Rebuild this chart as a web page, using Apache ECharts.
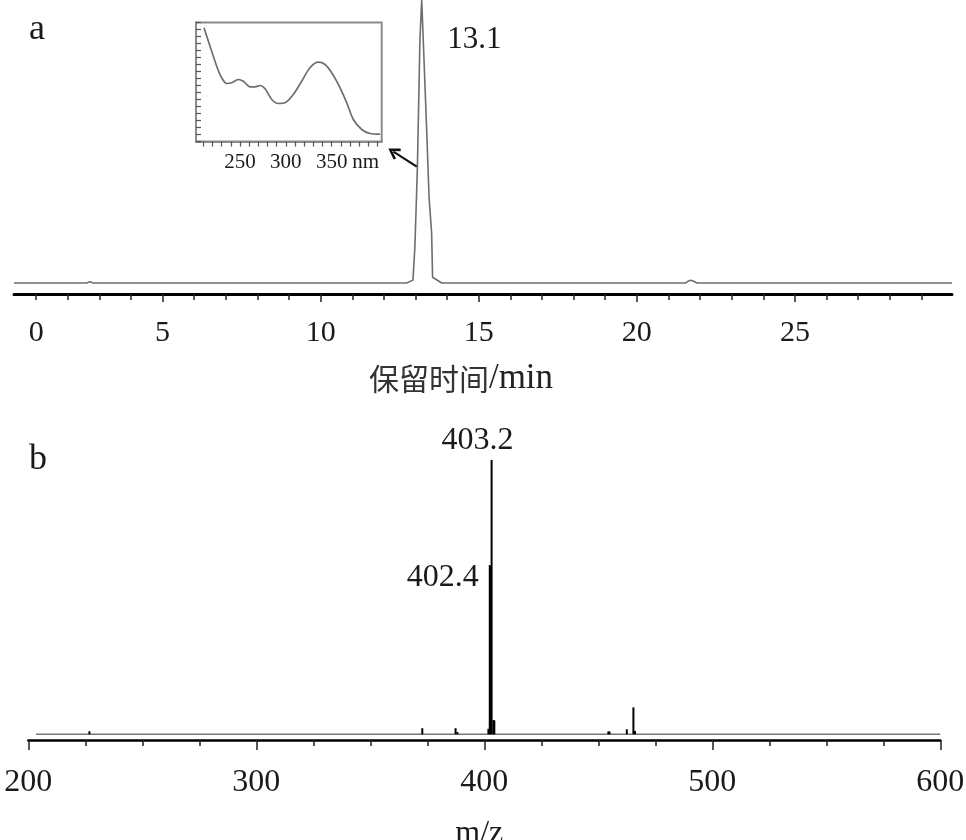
<!DOCTYPE html>
<html><head><meta charset="utf-8">
<script src="https://cdn.jsdelivr.net/npm/echarts@6/dist/echarts.min.js"></script>
<style>html,body{margin:0;padding:0;background:#fff}#c{width:966px;height:840px}</style>
</head><body><div id="c"></div>
<script>
// ---- panel a: chromatogram (retention time / min, relative response) ----
const chromTime = [0.3, 1.98, 2.0, 2.02, 2.6, 2.7, 2.8, 3.47, 3.49, 3.51, 12.72, 12.74, 12.76, 12.92, 12.98, 13.03, 13.06, 13.14, 13.196, 13.245, 13.35, 13.43, 13.51, 13.54, 13.83, 15.68, 15.70, 15.72, 21.55, 21.62, 21.7, 21.8, 21.9, 22.83, 22.85, 22.87, 29.97];
const chromResp = [0, 0, 0.6, 0, 0, 0.4, 0, 0, -0.5, 0, 0, 0.5, 0, 1, 12.7, 30, 41, 86, 100, 86, 55, 30, 17.7, 2, 0, 0, -0.5, 0, 0, 0.6, 1.0, 0.6, 0, 0, -0.5, 0, 0];
const peakTime = 13.196, peakResp = 100, peakLabel = '13.1';
const chromTicks = [1,2,3,4,5,6,7,8,9,10,11,12,13,14,15,16,17,18,19,20,21,22,23,24,25,26,27,28,29];
const chromMajorTicks = [5,10,15,20,25];
const chromLabelPos = [1,5,10,15,20,25];
const chromLabelText = ['0','5','10','15','20','25'];
const arrowFrom = [13.04, 41.1], arrowTo = [12.3, 46.4];
// ---- inset: UV spectrum ----
const uvNm  = [210.7, 217.3, 224.6, 230.0, 235.5, 240.9, 248.1, 253.6, 260.9, 266.4, 271.8, 277.3, 284.6, 291.8, 299.1, 308.1, 317.3, 326.3, 335.4, 342.7, 350.0, 359.1, 366.4, 373.6, 382.7, 391.8, 402.7];
const uvAbs = [1.137, 0.953, 0.753, 0.637, 0.58, 0.587, 0.62, 0.603, 0.547, 0.547, 0.56, 0.527, 0.42, 0.38, 0.387, 0.47, 0.603, 0.737, 0.793, 0.77, 0.687, 0.537, 0.387, 0.22, 0.12, 0.08, 0.073];
const uvTicks = [210,220,230,240,250,260,270,280,290,300,310,320,330,340,350,360,370,380,390,400];
const uvLabels = [250, 300, 350];
const uvUnitPos = 387, uvUnit = 'nm';
// ---- panel b: mass spectrum ----
const msMz  = [226.8, 372.8, 387.4, 388.2, 401.8, 402.4, 402.7, 403.2, 404.0, 404.4, 454.4, 454.9, 462.5, 465.4, 466.1];
const msInt = [1.1, 2.2, 2.2, 0.8, 2.0, 61.7, 61.0, 100, 5.2, 5.0, 1.0, 1.0, 1.8, 9.8, 1.2];
const msLabels = {'403.2': '403.2', '402.4': '402.4'};
const msBaseline = [[203.4, 0], [600, 0]];

const serif = '"Liberation Serif","DejaVu Serif",serif';
const cjk = '"Noto Sans CJK SC","Noto Sans CJK JP",sans-serif';
const ink = '#1a1a1a';

const chromData = chromTime.map((t, i) => [t, chromResp[i]]);
const msData = msMz.map((m, i) => {
  const key = m.toFixed(1);
  if (key === '403.2') return {value: [m, msInt[i]], label: {show: true, formatter: msLabels[key], position: 'top', distance: 4, offset: [-14, 1], fontFamily: serif, fontSize: 32, color: ink}};
  if (key === '402.4') return {value: [m, msInt[i]], label: {show: true, formatter: msLabels[key], position: 'top', distance: 4, offset: [-47, 33], fontFamily: serif, fontSize: 32, color: ink}};
  return [m, msInt[i]];
});

const chart = echarts.init(document.getElementById('c'), null, {renderer: 'canvas'});
chart.setOption({
  animation: false,
  backgroundColor: '#fff',
  title: [
    {text: 'a', left: 24, top: 7, textStyle: {fontFamily: serif, fontSize: 36, fontWeight: 'normal', color: ink}},
    {text: 'b', left: 24, top: 437, textStyle: {fontFamily: serif, fontSize: 36, fontWeight: 'normal', color: ink}}
  ],
  grid: [
    {left: 14, right: 14, top: 0, bottom: 546, containLabel: false, outerBoundsMode: 'none'},
    {left: 196, width: 185.7, top: 22.5, height: 119, show: true, borderColor: '#8a8a8a', borderWidth: 2, backgroundColor: 'transparent', outerBoundsMode: 'none'},
    {left: 28.3, right: 25.7, top: 432.6, bottom: 100, outerBoundsMode: 'none'}
  ],
  xAxis: [
    {type: 'value', gridIndex: 0, min: 0.3, max: 29.97, position: 'bottom',
     axisLine: {show: true, onZero: false, lineStyle: {color: '#000', width: 3}},
     axisTick: {show: true, customValues: chromTicks, length: 6, lineStyle: {color: '#222', width: 1.5}},
     axisLabel: {customValues: chromLabelPos, formatter: v => chromLabelText[chromLabelPos.indexOf(v)], fontFamily: serif, fontSize: 30, color: ink, margin: 24},
     splitLine: {show: false},
     name: '{c|保留时间}{l|/min}', nameLocation: 'middle', nameGap: 67,
     nameTextStyle: {color: '#333', padding: [0, 44, 0, 0],
       rich: {c: {fontFamily: cjk, fontSize: 30, color: '#333'}, l: {fontFamily: serif, fontSize: 35, color: '#222'}}}},
    {type: 'value', gridIndex: 0, min: 0.3, max: 29.97, position: 'bottom',
     axisLine: {show: false, onZero: false}, axisLabel: {show: false}, splitLine: {show: false},
     axisTick: {show: true, customValues: chromMajorTicks, length: 8, lineStyle: {color: '#222', width: 1.5}}},
    {type: 'value', gridIndex: 1, min: 202, max: 404.5, position: 'bottom',
     axisLine: {show: true, onZero: false, lineStyle: {color: '#8a8a8a', width: 2}},
     axisTick: {show: true, customValues: uvTicks, length: 5, lineStyle: {color: '#555', width: 1.2}},
     axisLabel: {customValues: uvLabels.concat([uvUnitPos]), formatter: v => (v === uvUnitPos ? uvUnit : String(v)), fontFamily: serif, fontSize: 21, color: ink, margin: 10},
     splitLine: {show: false}},
    {type: 'value', gridIndex: 2, min: 200, max: 600, interval: 100, position: 'bottom',
     axisLine: {show: true, onZero: false, lineStyle: {color: '#000', width: 2.5}},
     axisTick: {show: true, length: 10, lineStyle: {color: '#222', width: 1.5}},
     minorTick: {show: true, splitNumber: 4, length: 6, lineStyle: {color: '#222', width: 1.5}},
     axisLabel: {fontFamily: serif, fontSize: 32, color: ink, margin: 27},
     splitLine: {show: false},
     name: 'm/z', nameLocation: 'middle', nameGap: 78,
     nameTextStyle: {fontFamily: serif, fontSize: 32, color: ink, padding: [0, 10, 0, 0]}}
  ],
  yAxis: [
    {type: 'value', gridIndex: 0, min: -3.9, max: 100, show: false},
    {type: 'value', gridIndex: 1, min: 0, max: 1.19, interval: 0.07,
     axisLine: {show: true, lineStyle: {color: '#8a8a8a', width: 2}},
     axisTick: {show: true, inside: true, length: 5, lineStyle: {color: '#555', width: 1.2}},
     axisLabel: {show: false}, splitLine: {show: false}},
    {type: 'value', gridIndex: 2, min: -2.1, max: 110, show: false}
  ],
  series: [
    {type: 'line', xAxisIndex: 0, yAxisIndex: 0, data: chromData, symbol: 'none',
     lineStyle: {color: '#6e6e6e', width: 1.6}, clip: false, z: 3,
     markPoint: {silent: true, symbol: 'circle', symbolSize: 1, itemStyle: {color: 'rgba(0,0,0,0)'},
       label: {show: true, position: 'right', distance: 5, offset: [20, 40], fontFamily: serif, fontSize: 31, color: ink, formatter: peakLabel},
       data: [{coord: [peakTime, peakResp]}]},
     markLine: {silent: true, symbol: ['none', 'path://M5,0 L10,7.5 L8.3,8.6 L5,3.3 L1.7,8.6 L0,7.5 Z'], symbolSize: [13, 12],
       lineStyle: {color: '#111', width: 2.2, type: 'solid'}, label: {show: false},
       data: [[{coord: arrowFrom}, {coord: arrowTo}]]}},
    {type: 'line', xAxisIndex: 2, yAxisIndex: 1, data: uvNm.map((n, i) => [n, uvAbs[i]]), symbol: 'none', smooth: 0.3,
     lineStyle: {color: '#6e6e6e', width: 1.7}},
    {type: 'line', xAxisIndex: 3, yAxisIndex: 2, data: msBaseline, symbol: 'none', lineStyle: {color: '#777', width: 1.6}, z: 2},
    {type: 'bar', xAxisIndex: 3, yAxisIndex: 2, data: msData, barWidth: 2, itemStyle: {color: '#000'}, z: 3}
  ]
});
</script></body></html>
